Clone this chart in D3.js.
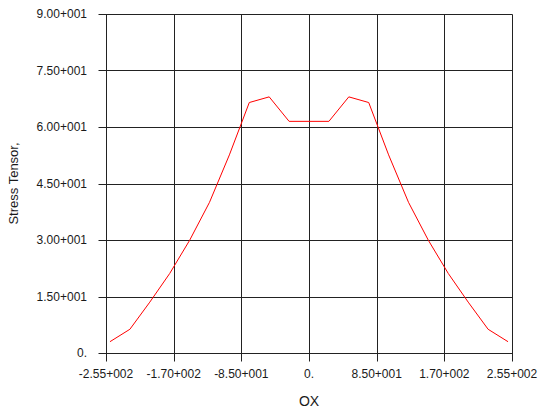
<!DOCTYPE html>
<html>
<head>
<meta charset="utf-8">
<script src="https://cdn.jsdelivr.net/npm/d3@7"></script>
<style>
  html, body { margin: 0; padding: 0; background: #fff; }
  svg { display: block; }
  .lbl { font-family: "Liberation Sans Narrow", "Liberation Sans", Arial, sans-serif; font-size: 12px; fill: #1a1a1a; }
</style>
</head>
<body>
<svg id="chart" width="542" height="411"></svg>
<script>
const xValues = [-250, -225, -200, -175, -150, -125, -100, -75, -50, -25, 0, 25, 50, 75, 100, 125, 150, 175, 200, 225, 250];
const stressValues = [3.0, 6.3, 13.5, 21.1, 29.9, 40.0, 52.6, 66.5, 68.0, 61.5, 61.5, 61.5, 68.0, 66.5, 52.6, 40.0, 29.9, 21.1, 13.5, 6.3, 3.0];
const xTicks = [-255, -170, -85, 0, 85, 170, 255];
const xTickLabels = ["-2.55+002", "-1.70+002", "-8.50+001", "0.", "8.50+001", "1.70+002", "2.55+002"];
const yTicks = [0, 15, 30, 45, 60, 75, 90];
const yTickLabels = ["0.", "1.50+001", "3.00+001", "4.50+001", "6.00+001", "7.50+001", "9.00+001"];
const xTitle = "OX";
const yTitle = "Stress Tensor,";

(function () {
const svg = d3.select("#chart");
const pLeft = 106, pRight = 512, pTop = 14, pBottom = 353;
const x = d3.scaleLinear().domain([-255, 255]).range([pLeft, pRight]);
const y = d3.scaleLinear().domain([0, 90]).range([pBottom, pTop]);
const cx = v => Math.round(x(v)) + 0.5;
const cy = v => Math.round(y(v)) + 0.5;

// grid
const g = svg.append("g");
g.selectAll("line.v").data(xTicks).enter().append("line")
  .attr("x1", d => cx(d)).attr("x2", d => cx(d))
  .attr("y1", pTop + 0.5).attr("y2", pBottom + 8.5)
  .attr("stroke", "#222").attr("stroke-width", 1);
g.selectAll("line.h").data(yTicks).enter().append("line")
  .attr("x1", pLeft - 8 + 0.5).attr("x2", pRight + 0.5)
  .attr("y1", d => cy(d)).attr("y2", d => cy(d))
  .attr("stroke", "#222").attr("stroke-width", 1);

// tick labels
svg.selectAll("text.xt").data(xTicks).enter().append("text")
  .attr("class", "lbl")
  .attr("x", d => x(d)).attr("y", pBottom + 25)
  .attr("text-anchor", "middle")
  .text((d, i) => xTickLabels[i]);
svg.selectAll("text.yt").data(yTicks).enter().append("text")
  .attr("class", "lbl")
  .attr("x", pLeft - 19).attr("y", d => y(d) + 4)
  .attr("text-anchor", "end")
  .text((d, i) => yTickLabels[i]);

// titles
svg.append("text").attr("class", "lbl")
  .style("font-family", "'Liberation Sans', Arial, sans-serif")
  .style("font-size", "14px")
  .attr("x", x(0)).attr("y", 406)
  .attr("text-anchor", "middle").text(xTitle);
svg.append("text").attr("class", "lbl")
  .style("font-family", "'Liberation Sans', Arial, sans-serif")
  .style("font-size", "13px")
  .attr("transform", `translate(18,${(pTop + pBottom) / 2}) rotate(-90)`)
  .attr("text-anchor", "middle").text(yTitle);

// curve
const line = d3.line().x(d => x(d[0])).y(d => y(d[1]));
svg.append("path")
  .datum(xValues.map((v, i) => [v, stressValues[i]]))
  .attr("d", line)
  .attr("fill", "none")
  .attr("stroke", "#ff0000")
  .attr("stroke-width", 1);
})();
</script>
</body>
</html>
